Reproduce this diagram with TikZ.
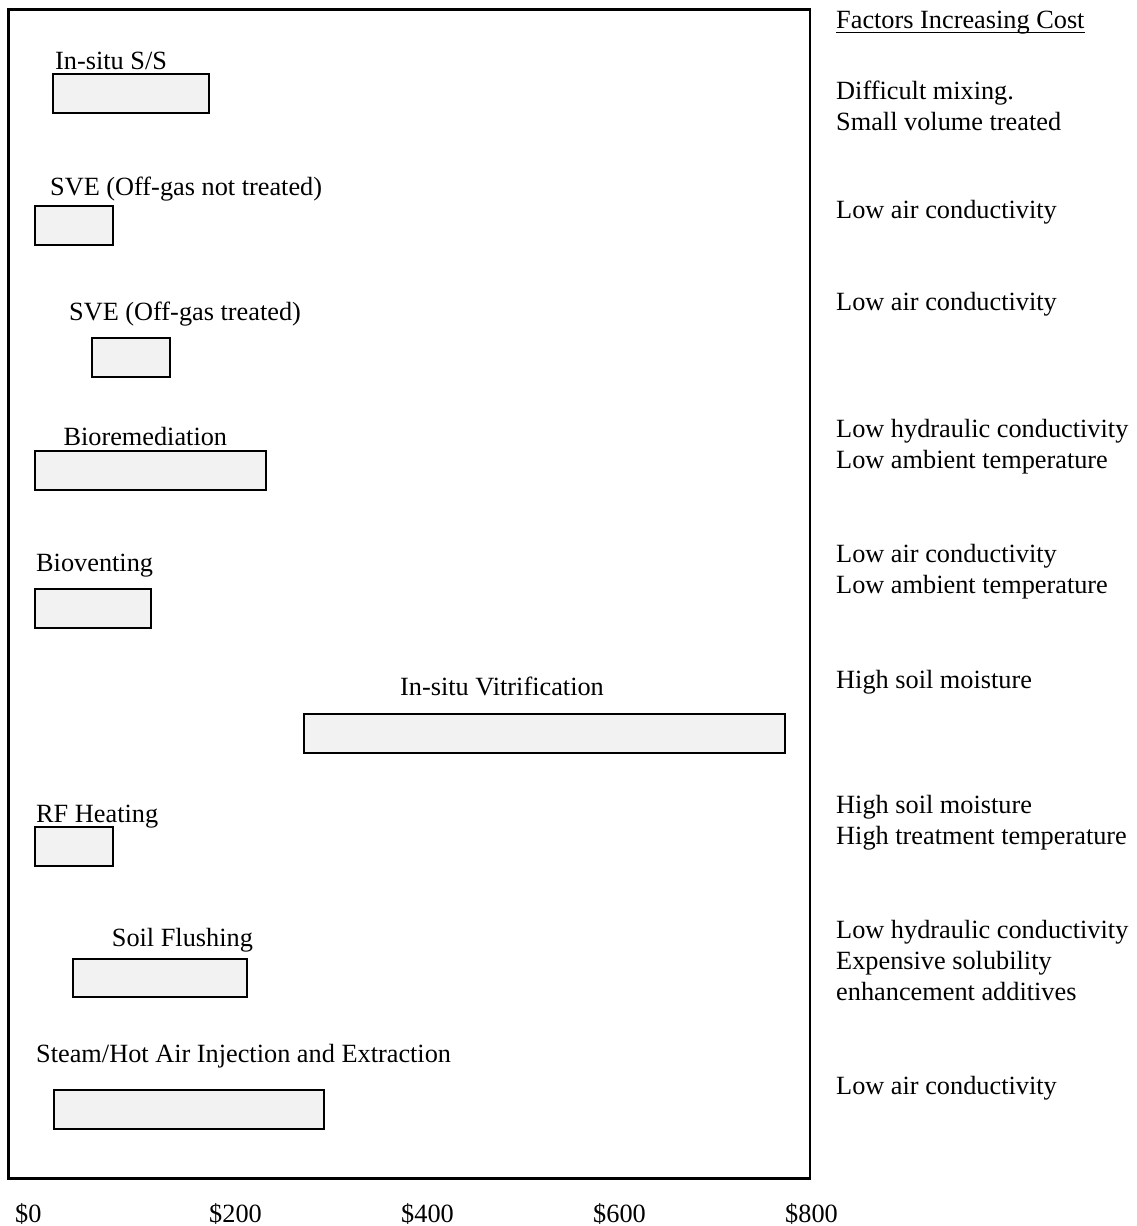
\documentclass[tikz,border=0pt]{standalone}
\usepackage{fontspec}
\setmainfont{Liberation Serif}
\definecolor{barfill}{HTML}{F2F2F2}
\begin{document}
\begin{tikzpicture}[x=1pt,y=-1pt,
  txt/.style={anchor=base west, inner sep=0pt, font=\fontsize{26.3}{31}\selectfont},
  bar/.style={draw=black, line width=2.2pt, fill=barfill}]
\useasboundingbox (0,0) rectangle (1136,1226);
\fill[white] (0,0) rectangle (1136,1226);

% chart frame
\draw[line width=2.5pt] (8.5,9.5) rectangle (810,1178.5);

% cost ranges per technology
\node[txt] (t1) at (55,69) {In-situ S/S};
\draw[bar] (53.3,74) rectangle (209,113.3);

\node[txt] (t2) at (50,195) {SVE (Off-gas not treated)};
\draw[bar] (34.7,205.7) rectangle (112.7,245.3);

\node[txt] (t3) at (69,320.7) {SVE (Off-gas treated)};
\draw[bar] (92.3,337.7) rectangle (170.3,377);

\node[txt] (t4) at (63.3,445) {Bioremediation};
\draw[bar] (35,451) rectangle (266.3,490.3);

\node[txt] (t5) at (36,571.7) {Bioventing};
\draw[bar] (35,589.3) rectangle (150.7,628.3);

\node[txt] (t6) at (400,695) {In-situ Vitrification};
\draw[bar] (304,714) rectangle (785,753);

\node[txt] (t7) at (36,822) {RF Heating};
\draw[bar] (35,826.7) rectangle (112.7,865.7);

\node[txt] (t8) at (111.7,946.7) {Soil Flushing};
\draw[bar] (73.3,958.7) rectangle (247,997.3);

\node[txt] (t9) at (36,1062.7) {Steam/Hot Air Injection and Extraction};
\draw[bar] (54,1090.3) rectangle (323.7,1129);

% cost axis
\node[txt] (a0) at (15,1222) {\$0};
\node[txt] (a1) at (209,1222) {\$200};
\node[txt] (a2) at (401,1222) {\$400};
\node[txt] (a3) at (593,1222) {\$600};
\node[txt] (a4) at (785,1222) {\$800};

% factors column
\node[txt] (fac) at (836,28) {Factors Increasing Cost};
\draw[line width=1.3pt] ([yshift=-4.5pt]fac.base west) -- ([yshift=-4.5pt]fac.base east);

\node[txt] (f1a) at (836,99) {Difficult mixing.};
\node[txt] (f1b) at (836,130) {Small volume treated};
\node[txt] (f2) at (836,218) {Low air conductivity};
\node[txt] (f3) at (836,310) {Low air conductivity};
\node[txt] (f4a) at (836,437) {Low hydraulic conductivity};
\node[txt] (f4b) at (836,468) {Low ambient temperature};
\node[txt] (f5a) at (836,562) {Low air conductivity};
\node[txt] (f5b) at (836,593) {Low ambient temperature};
\node[txt] (f6) at (836,688) {High soil moisture};
\node[txt] (f7a) at (836,813) {High soil moisture};
\node[txt] (f7b) at (836,844) {High treatment temperature};
\node[txt] (f8a) at (836,938) {Low hydraulic conductivity};
\node[txt] (f8b) at (836,969) {Expensive solubility};
\node[txt] (f8c) at (836,1000) {enhancement additives};
\node[txt] (f9) at (836,1094) {Low air conductivity};
\end{tikzpicture}
\end{document}
